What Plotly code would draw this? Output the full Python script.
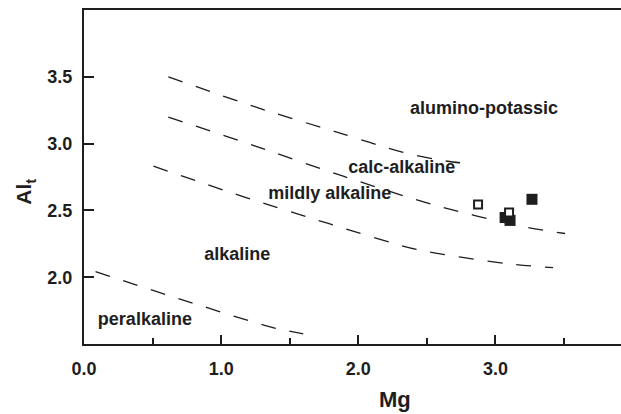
import plotly.graph_objects as go

# Discrimination boundaries (Mg vs Al_t), dashed curves
b_alk_mg = [0.615, 1.249, 1.890, 2.320, 2.648, 2.779]
b_alk_al = [3.500, 3.274, 3.071, 2.936, 2.868, 2.853]

b_calc_mg = [0.615, 1.249, 1.890, 2.538, 3.193, 3.507]
b_calc_al = [3.199, 2.981, 2.756, 2.545, 2.380, 2.327]

b_mild_mg = [0.506, 1.154, 1.781, 2.429, 3.084, 3.419]
b_mild_al = [2.831, 2.605, 2.402, 2.207, 2.102, 2.071]

b_peralk_mg = [0.084, 0.717, 1.358, 1.598]
b_peralk_al = [2.041, 1.831, 1.628, 1.575]

# Samples
filled_mg = [3.070, 3.106, 3.266]
filled_al = [2.447, 2.425, 2.583]
open_mg = [2.873, 3.099]
open_al = [2.545, 2.485]

# Field names
field_names = ["alumino-potassic", "calc-alkaline", "mildly alkaline", "alkaline", "peralkaline"]
field_mg = [2.917, 2.316, 1.792, 1.118, 0.444]
field_al = [3.259, 2.816, 2.620, 2.162, 1.673]

x_ticks = [0.0, 1.0, 2.0, 3.0]
y_ticks = [2.0, 2.5, 3.0, 3.5]

INK = "#1e1e1e"
FONT = "Liberation Sans"

fig = go.Figure()

for mg, al in [(b_alk_mg, b_alk_al), (b_calc_mg, b_calc_al),
               (b_mild_mg, b_mild_al), (b_peralk_mg, b_peralk_al)]:
    fig.add_trace(go.Scatter(
        x=mg, y=al, mode="lines",
        line=dict(color=INK, width=1.3, dash="15px,14px", shape="spline", smoothing=0.8),
        hoverinfo="skip", showlegend=False))

fig.add_trace(go.Scatter(
    x=filled_mg, y=filled_al, mode="markers",
    marker=dict(symbol="square", size=11, color=INK, line=dict(width=0)),
    showlegend=False))
fig.add_trace(go.Scatter(
    x=open_mg, y=open_al, mode="markers",
    marker=dict(symbol="square", size=8, color="white", line=dict(width=2, color=INK)),
    showlegend=False))

fig.add_trace(go.Scatter(
    x=field_mg, y=field_al, mode="text", text=field_names,
    textposition="middle center",
    textfont=dict(family=FONT, size=18, color=INK, weight="bold"),
    hoverinfo="skip", showlegend=False))

# plot area: left 83.5, right 621, top 9.5, bottom 344 (px)
L, R, T, B = 83.5, 621.0, 9.5, 344.0

def px_to_paper(px, py):
    return (px - L) / (R - L), (B - py) / (B - T)

mx, my = px_to_paper(395, 400)
ax_, ay_ = px_to_paper(25, 192)

fig.update_layout(
    width=621, height=414,
    margin=dict(l=83.5, r=0, t=9.5, b=70),
    paper_bgcolor="white", plot_bgcolor="white",
    font=dict(family=FONT, color=INK),
    xaxis=dict(
        range=[0, 3.915], showgrid=False, zeroline=False,
        showline=True, linecolor=INK, linewidth=2, mirror=True,
        tickmode="array", tickvals=x_ticks, tickformat=".1f",
        ticks="inside", ticklen=9, tickwidth=1.5, tickcolor=INK,
        minor=dict(tickmode="array", tickvals=[0.5, 1.5, 2.5, 3.5],
                   ticks="inside", ticklen=6, tickwidth=1.5, tickcolor=INK),
        tickfont=dict(family=FONT, size=18, color=INK, weight="bold"),
        ticklabelstandoff=7,
    ),
    yaxis=dict(
        range=[1.5, 4.0], showgrid=False, zeroline=False,
        showline=True, linecolor=INK, linewidth=2, mirror=False,
        tickmode="array", tickvals=y_ticks, tickformat=".1f",
        ticks="inside", ticklen=10, tickwidth=1.5, tickcolor=INK,
        tickfont=dict(family=FONT, size=18, color=INK, weight="bold"),
        ticklabelstandoff=6,
    ),
    annotations=[
        dict(xref="paper", yref="paper", x=mx, y=my, text="Mg", showarrow=False,
             xanchor="center", yanchor="middle",
             font=dict(family=FONT, size=22, color=INK, weight="bold")),
        dict(xref="paper", yref="paper", x=ax_, y=ay_, text="Al<sub>t</sub>", showarrow=False,
             xanchor="center", yanchor="middle", textangle=-90,
             font=dict(family=FONT, size=21, color=INK, weight="bold")),
    ],
)

fig.write_html("out.html")
